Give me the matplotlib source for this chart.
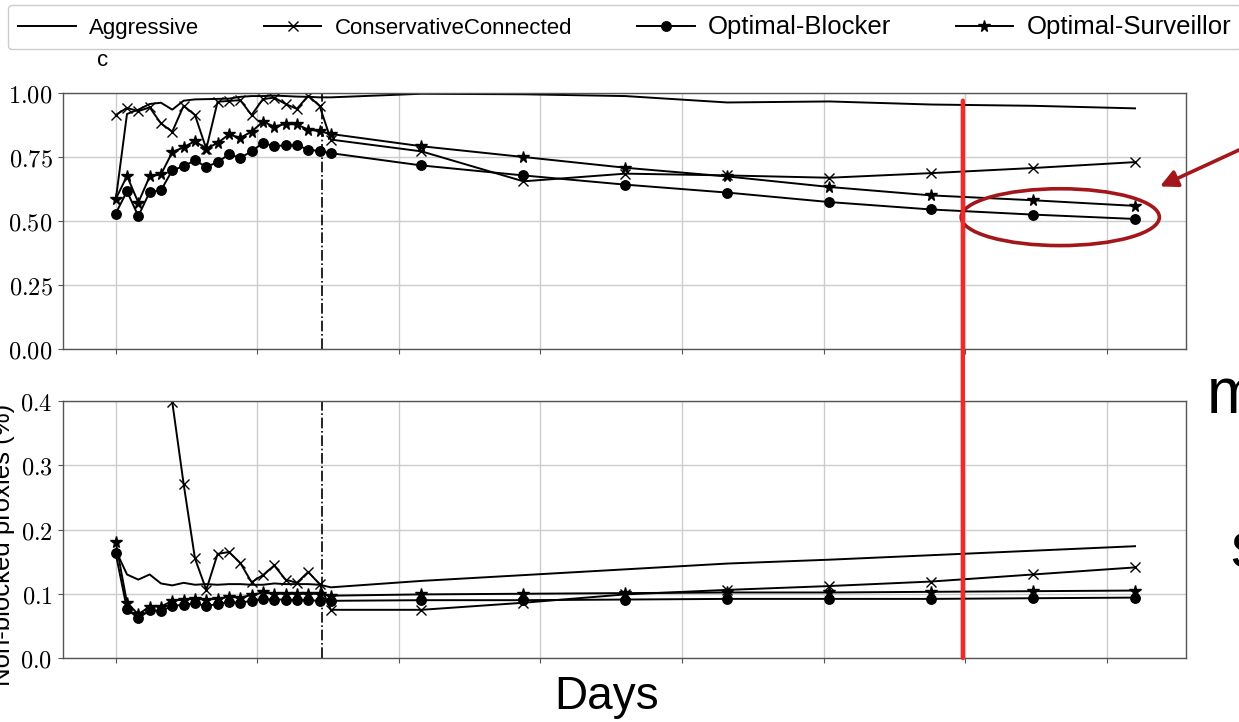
import numpy as np
import matplotlib.pyplot as plt
from matplotlib.patches import Ellipse, ConnectionPatch

plt.rcParams['mathtext.fontset'] = 'cm'
sans = 'Liberation Sans'

# days: daily for the first 20, then every 9 days
days = [0, 1, 2, 3, 4, 5, 6, 7, 8, 9, 10, 11, 12, 13, 14, 15, 16, 17, 18, 19,
        27, 36, 45, 54, 63, 72, 81, 90]
switch_day = 18.2
marked_day = 74.8

labels = ['Aggressive', 'ConservativeConnected', 'Optimal-Blocker', 'Optimal-Surveillor']
markers = [None, 'x', 'o', '*']

# top panel
aggr_top = [0.580, 0.918, 0.935, 0.957, 0.962, 0.935, 0.970, 0.975, 0.976, 0.977,
            0.978, 0.985, 0.988, 0.988, 0.990, 0.988, 0.986, 0.985, 0.983, 0.983,
            0.997, 0.995, 0.988, 0.963, 0.967, 0.955, 0.950, 0.940]
cc_top = [0.914, 0.942, 0.929, 0.944, 0.881, 0.849, 0.950, 0.914, 0.782, 0.966,
          0.969, 0.972, 0.914, 0.976, 0.982, 0.957, 0.938, 0.989, 0.950, 0.818,
          0.772, 0.655, 0.685, 0.678, 0.669, 0.687, 0.707, 0.730]
blocker_top = [0.529, 0.616, 0.519, 0.613, 0.620, 0.698, 0.714, 0.737, 0.711, 0.730,
               0.760, 0.747, 0.772, 0.805, 0.792, 0.796, 0.796, 0.779, 0.773, 0.765,
               0.717, 0.678, 0.642, 0.611, 0.574, 0.545, 0.525, 0.508]
surv_top = [0.585, 0.676, 0.572, 0.674, 0.682, 0.769, 0.788, 0.812, 0.782, 0.805,
            0.838, 0.825, 0.849, 0.888, 0.869, 0.879, 0.877, 0.857, 0.851, 0.840,
            0.792, 0.750, 0.708, 0.674, 0.633, 0.600, 0.581, 0.559]

# bottom panel
aggr_bot = [0.168, 0.130, 0.122, 0.130, 0.116, 0.113, 0.117, 0.114, 0.115, 0.114,
            0.115, 0.115, 0.114, 0.114, 0.116, 0.115, 0.115, 0.115, 0.114, 0.110,
            0.120, 0.129, 0.138, 0.147, 0.153, 0.160, 0.167, 0.174]
cc_bot = [0.950, 0.850, 0.750, 0.650, 0.550, 0.398, 0.271, 0.155, 0.106, 0.162,
          0.165, 0.148, 0.118, 0.129, 0.144, 0.122, 0.117, 0.134, 0.115, 0.075,
          0.075, 0.086, 0.099, 0.106, 0.112, 0.119, 0.130, 0.141]
blocker_bot = [0.163, 0.076, 0.062, 0.074, 0.073, 0.081, 0.083, 0.085, 0.081, 0.084,
               0.087, 0.086, 0.089, 0.092, 0.091, 0.091, 0.090, 0.090, 0.089, 0.089,
               0.090, 0.090, 0.091, 0.092, 0.092, 0.092, 0.093, 0.094]
surv_bot = [0.181, 0.086, 0.068, 0.080, 0.080, 0.089, 0.091, 0.092, 0.091, 0.092,
            0.095, 0.094, 0.098, 0.102, 0.100, 0.100, 0.100, 0.100, 0.100, 0.097,
            0.099, 0.100, 0.101, 0.102, 0.102, 0.103, 0.104, 0.105]

top_yticks = [0.0, 0.25, 0.5, 0.75, 1.0]
bot_yticks = [0.0, 0.1, 0.2, 0.3, 0.4]
xticks = np.arange(0, 95, 12.5)

fig = plt.figure(figsize=(12.39, 7.22), dpi=100)
W, H = 1239, 722
ax1 = fig.add_axes([63 / W, 1 - 349 / H, 1123 / W, 256 / H])
ax2 = fig.add_axes([63 / W, 1 - 658 / H, 1123 / W, 257 / H])

msize = {'x': 6.5, 'o': 6.8, '*': 8.5, None: 0}
for ax, series in [(ax1, [aggr_top, cc_top, blocker_top, surv_top]),
                   (ax2, [aggr_bot, cc_bot, blocker_bot, surv_bot])]:
    for vals, lab, m in zip(series, labels, markers):
        ax.plot(days, vals, color='black', lw=1.4, marker=m, markersize=msize[m],
                mew=1.0, label=lab)
    ax.axvline(switch_day, color='black', lw=1.2, ls='-.')
    ax.set_xlim(-4.65, 94.5)
    ax.set_xticks(xticks)
    ax.set_xticklabels([])
    ax.grid(True, color='#cccccc', lw=1.0)
    ax.set_axisbelow(True)
    for s in ax.spines.values():
        s.set_color('#555555')
        s.set_linewidth(1.0)
    ax.tick_params(length=3.5, width=0.8, color='#555555', labelsize=17.5, pad=4)

ax1.set_ylim(0, 1)
ax1.set_yticks(top_yticks)
ax1.set_yticklabels([f'${v:.2f}$' for v in top_yticks])
ax2.set_ylim(0, 0.4)
ax2.set_yticks(bot_yticks)
ax2.set_yticklabels([f'${v:.1f}$' for v in bot_yticks])

# legend across the top
handles, _ = ax1.get_legend_handles_labels()
leg = fig.legend(handles, labels, loc='upper left', ncol=4,
                 bbox_to_anchor=(8 / W, 1 - 5 / H), borderaxespad=0,
                 prop={'family': sans, 'size': 16}, handlelength=2.6,
                 handletextpad=0.6, columnspacing=2.9, borderpad=0.45,
                 frameon=True, fancybox=True, edgecolor='#cccccc', framealpha=1)
for t in leg.get_texts()[2:]:
    t.set_fontsize(18.5)
fig.text(97 / W, 1 - 60 / H, 'c', fontsize=16, family=sans, ha='left', va='center')

fig.text(15 / W, 1 - 545 / H, 'Non-blocked proxies (%)', rotation=90, ha='right',
         va='center', fontsize=18.5, family=sans)
fig.text(607 / W, 1 - 697 / H, 'Days', fontsize=33, family=sans,
         ha='center', va='center')

# slide annotations
red_line = ConnectionPatch(xyA=(marked_day, 0.97), coordsA=ax1.transData,
                           xyB=(marked_day, 0.0), coordsB=ax2.transData,
                           color='#ee2a2a', lw=3.2, zorder=10)
fig.add_artist(red_line)
ax1.add_patch(Ellipse((83.4, 0.515), 17.5, 0.222, fill=False, edgecolor='#a3161a',
                      lw=2.6, clip_on=False, zorder=11))
ax1.annotate('', xy=(92.2, 0.635), xycoords='data',
             xytext=(1252, H - 144), textcoords='figure pixels',
             arrowprops=dict(arrowstyle='-|>', color='#a3161a', lw=2.6,
                             mutation_scale=26, shrinkA=0, shrinkB=0),
             annotation_clip=False)
fig.text(1207 / W, 1 - 413 / H, 'm', fontsize=46, family=sans,
         ha='left', va='baseline')
fig.text(1230 / W, 1 - 568 / H, 's', fontsize=46, family=sans,
         ha='left', va='baseline')

fig.savefig('out.png', dpi=100)
